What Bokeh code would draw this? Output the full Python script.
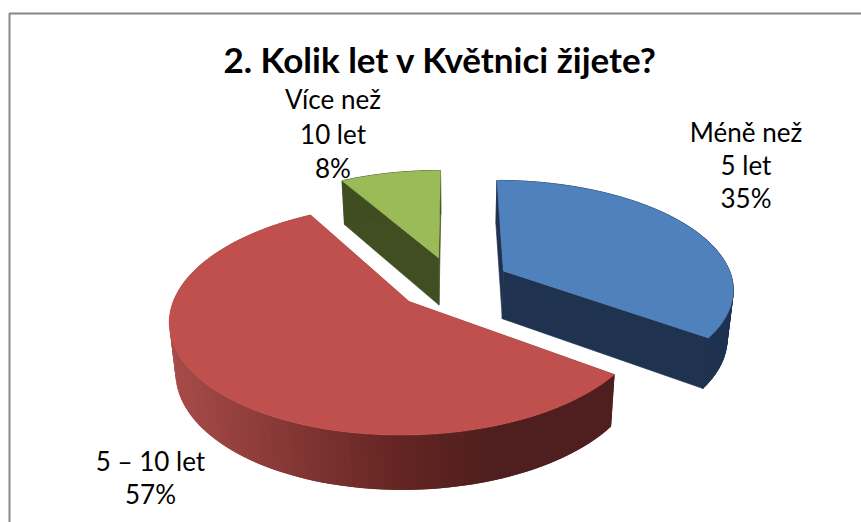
import numpy as np
from bokeh.embed import file_html
from bokeh.resources import INLINE
from bokeh.plotting import figure
from bokeh.models import Range1d, ColumnDataSource
from bokeh.core.properties import value

title_text = "2. Kolik let v Květnici žijete?"
categories = ["Méně než 5 let", "5 – 10 let", "Více než 10 let"]
shares = [35.0, 56.7, 8.3]
top_colors = ["#4f81bd", "#c0504d", "#9bbb59"]
side_colors = ["#1f3350", None, "#404e22"]
label_lines = [["Méně než", "5 let", "35%"], ["5 – 10 let", "57%"], ["Více než", "10 let", "8%"]]

FONT = "Lato"
W, H = 861, 522
CX, CY = 452.5, 282.5
R, RY, K, EXPLODE = 230.0, 107.5, 0.15, 0.25

def project(theta, radius, offs):
    u = radius * np.sin(theta) + offs[0]
    v = radius * np.cos(theta) + offs[1]
    w = 1 + K * v
    return CX + R * u / w, CY - RY * v / w

def lower(x, y):
    return CX + (x - CX) * 0.978, y + 36 + 0.0433 * y

p = figure(width=W, height=H, output_backend="svg", toolbar_location=None,
           x_range=Range1d(0, W), y_range=Range1d(H, 0),
           min_border=0, outline_line_color=None, background_fill_color="white",
           border_fill_color="white")
p.axis.visible = False
p.grid.visible = False
p.xaxis.visible = False
p.yaxis.visible = False

# chart frame
p.line([9, 9, 861], [522, 13, 13], line_color="#868686", line_width=2)

grad_x = [170, 400, 495, 620]
grad_r = [168, 100, 78, 78]
grad_g = [76, 37, 31, 31]
grad_b = [73, 35, 30, 30]

def side_color(i, x):
    if side_colors[i] is not None:
        return side_colors[i]
    return "#%02x%02x%02x" % (int(np.interp(x, grad_x, grad_r)),
                              int(np.interp(x, grad_x, grad_g)),
                              int(np.interp(x, grad_x, grad_b)))

starts = np.cumsum([0] + shares[:-1]) / sum(shares) * 2 * np.pi
ends = np.cumsum(shares) / sum(shares) * 2 * np.pi

for i in [2, 0, 1]:
    a0, a1 = starts[i], ends[i]
    mid = (a0 + a1) / 2
    offs = (EXPLODE * np.sin(mid), EXPLODE * np.cos(mid))
    th = np.linspace(a0, a1, 121)
    ax, ay = project(th, 1.0, offs)
    bx, by = lower(ax, ay)
    ox, oy = project(np.array([0.0]), 0.0, offs)
    lx, ly = lower(ox, oy)
    xs, ys, cs = [], [], []
    # cut faces
    xs.append([ox[0], ax[0], bx[0], lx[0]]); ys.append([oy[0], ay[0], by[0], ly[0]]); cs.append(side_color(i, ax[0]))
    xs.append([ox[0], ax[-1], bx[-1], lx[0]]); ys.append([oy[0], ay[-1], by[-1], ly[0]]); cs.append(side_color(i, ax[-1]))
    # outer wall
    for j in range(len(th) - 1):
        k2 = min(j + 2, len(th) - 1)
        xs.append([ax[j], ax[k2], bx[k2], bx[j]])
        ys.append([ay[j], ay[k2], by[k2], by[j]])
        cs.append(side_color(i, (ax[j] + ax[j + 1]) / 2))
    solid = side_colors[i] is not None
    p.patches(xs="xs", ys="ys", source=ColumnDataSource(dict(xs=xs, ys=ys, c=cs)),
              fill_color="c", line_color="c" if solid else None, line_width=0.6)
    # top surface
    p.patch(np.r_[ox, ax], np.r_[oy, ay], fill_color=top_colors[i], line_color=top_colors[i], line_width=0.5)

# text
p.text(x=[440], y=[58], text=[title_text], text_font=value(FONT), text_font_style="bold",
       text_font_size="35px", text_align="center", text_baseline="middle", text_color="#000000")

label_x = [745.5, 150, 332.5]
label_y = [[131, 164, 197], [460, 493], [98, 133, 167]]
for i in range(3):
    p.text(x=[label_x[i]] * len(label_lines[i]), y=label_y[i], text=label_lines[i],
           text_font=value(FONT), text_font_size="26px", text_align="center",
           text_baseline="middle", text_color="#000000")

open("out.html", "w").write(file_html(p, INLINE))
